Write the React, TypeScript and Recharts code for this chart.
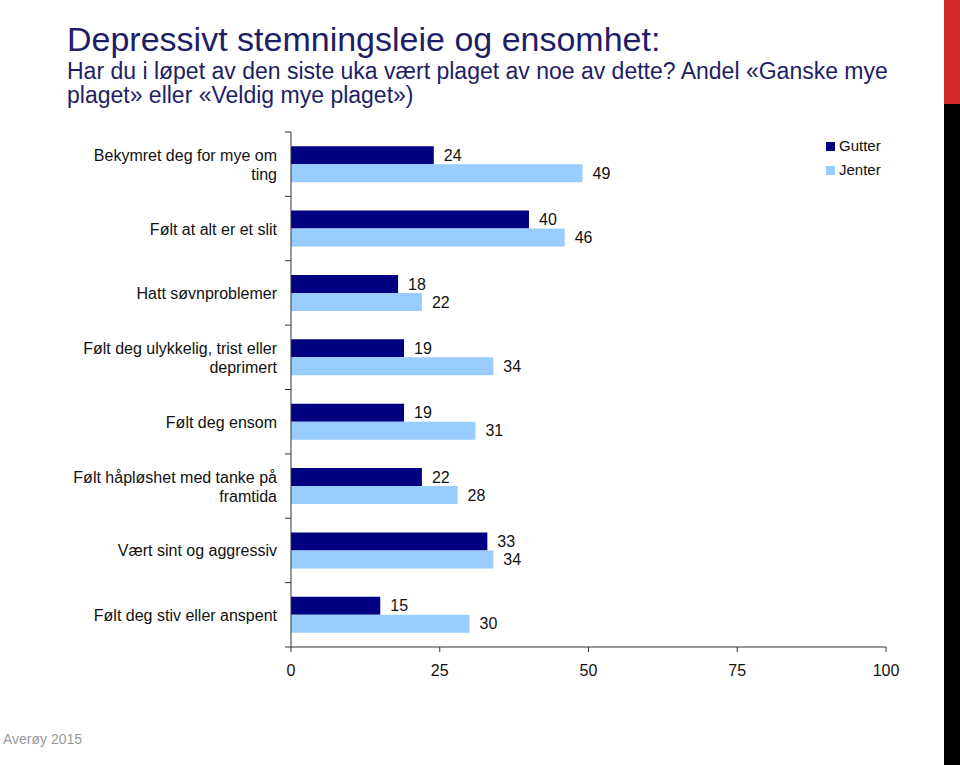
import { BarChart, Bar, XAxis, YAxis, LabelList } from "recharts";

const categories = [
  "Bekymret deg for mye om\nting",
  "Følt at alt er et slit",
  "Hatt søvnproblemer",
  "Følt deg ulykkelig, trist eller\ndeprimert",
  "Følt deg ensom",
  "Følt håpløshet med tanke på\nframtida",
  "Vært sint og aggressiv",
  "Følt deg stiv eller anspent",
];
const gutter = [24, 40, 18, 19, 19, 22, 33, 15];
const jenter = [49, 46, 22, 34, 31, 28, 34, 30];
const xTicks = [0, 25, 50, 75, 100];

const data = categories.map((name, i) => ({ name, gutter: gutter[i], jenter: jenter[i] }));

const FONT = "'Liberation Sans', Arial, sans-serif";
const NAVY = "#000080";
const LIGHT = "#99ccff";

const legendItems = [
  { label: "Gutter", color: NAVY },
  { label: "Jenter", color: LIGHT },
];

const CategoryTick = (props: any) => {
  const { x, y, payload, index } = props;
  const half = payload?.offset ?? 515 / categories.length / 2;
  const lines = String(payload.value).split("\n");
  const lh = 19;
  const startY = y - ((lines.length - 1) * lh) / 2;
  return (
    <g>
      <line x1={x - 6} x2={x} y1={y - half} y2={y - half} stroke="#333" />
      {index === categories.length - 1 && (
        <line x1={x - 6} x2={x} y1={y + half} y2={y + half} stroke="#333" />
      )}
      <text x={x - 14} y={startY} textAnchor="end" fontSize={16} fill="#111" fontFamily={FONT} dominantBaseline="central">
        {lines.map((l, i) => (
          <tspan key={i} x={x - 14} dy={i === 0 ? 0 : lh}>
            {l}
          </tspan>
        ))}
      </text>
    </g>
  );
};

export default function App() {
  return (
    <div style={{ position: "absolute", top: 0, left: 0, width: 960, height: 765, background: "#fff", overflow: "hidden" }}>
      <div style={{ position: "absolute", left: 67, top: 20, fontFamily: FONT, fontSize: 34, color: "#1e1e66", whiteSpace: "nowrap" }}>
        Depressivt stemningsleie og ensomhet:
      </div>
      <div style={{ position: "absolute", left: 67, top: 59, width: 830, fontFamily: FONT, fontSize: 23, lineHeight: "24px", color: "#1e1e66" }}>
        Har du i løpet av den siste uka vært plaget av noe av dette? Andel «Ganske mye plaget» eller «Veldig mye plaget»)
      </div>
      <div style={{ position: "absolute", left: 944, top: 0, width: 16, height: 104, background: "#d42a2e" }} />
      <div style={{ position: "absolute", left: 944, top: 104, width: 16, height: 661, background: "#000" }} />
      <div style={{ position: "absolute", left: 3, top: 731, fontFamily: FONT, fontSize: 14, color: "#999" }}>Averøy 2015</div>
      <div style={{ position: "absolute", left: 0, top: 0 }}>
        <BarChart
          width={960}
          height={700}
          data={data}
          layout="vertical"
          margin={{ top: 132, right: 74, bottom: 23, left: 0 }}
          barCategoryGap="22%"
          barGap={0}
        >
          <XAxis
            type="number"
            domain={[0, 100]}
            ticks={xTicks}
            stroke="#333"
            tickSize={5}
            tickMargin={13}
            height={30}
            tick={{ fontSize: 16, fill: "#111", fontFamily: FONT }}
          />
          <YAxis
            type="category"
            dataKey="name"
            width={291}
            stroke="#333"
            tickLine={false}
            tickSize={0}
            tickMargin={0}
            interval={0}
            tick={<CategoryTick />}
          />
          <Bar dataKey="gutter" name="Gutter" fill={NAVY} isAnimationActive={false}>
            <LabelList dataKey="gutter" position="right" offset={10} fill="#111" fontSize={16} fontFamily={FONT} />
          </Bar>
          <Bar dataKey="jenter" name="Jenter" fill={LIGHT} isAnimationActive={false}>
            <LabelList dataKey="jenter" position="right" offset={10} fill="#111" fontSize={16} fontFamily={FONT} />
          </Bar>
        </BarChart>
      </div>
      <div style={{ position: "absolute", left: 826, top: 134, fontFamily: FONT, fontSize: 15, color: "#111", lineHeight: "24px" }}>
        {legendItems.map((e) => (
          <div key={e.label} style={{ display: "flex", alignItems: "center" }}>
            <span style={{ width: 9, height: 9, background: e.color, display: "inline-block", marginRight: 4 }} />
            {e.label}
          </div>
        ))}
      </div>
    </div>
  );
}
